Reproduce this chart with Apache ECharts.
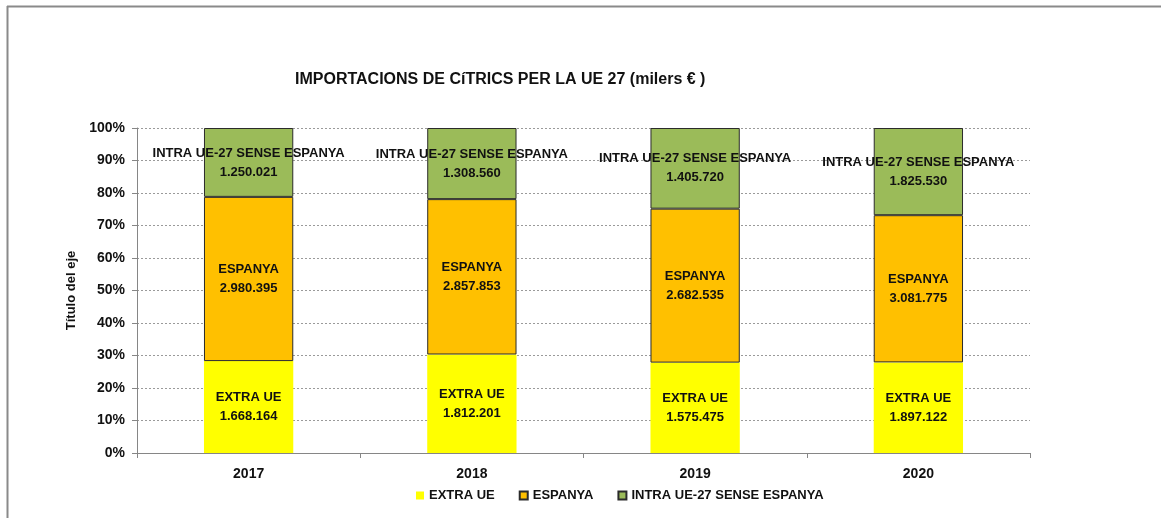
<!DOCTYPE html>
<html>
<head>
<meta charset="utf-8">
<script src="https://cdn.jsdelivr.net/npm/echarts@6/dist/echarts.min.js"></script>
<style>
html,body{margin:0;padding:0;background:#fff;}
#chart{width:1161px;height:518px;}
</style>
</head>
<body>
<div id="chart"></div>
<script>
var categories = ['2017', '2018', '2019', '2020'];
var extraUE = [1668164, 1812201, 1575475, 1897122];
var espanya = [2980395, 2857853, 2682535, 3081775];
var intraUE = [1250021, 1308560, 1405720, 1825530];
var seriesNames = ['EXTRA UE', 'ESPANYA', 'INTRA UE-27 SENSE ESPANYA'];
var yTicks = [0, 10, 20, 30, 40, 50, 60, 70, 80, 90, 100];

var raw = [extraUE, espanya, intraUE];
var totals = categories.map(function (c, i) { return extraUE[i] + espanya[i] + intraUE[i]; });
function pct(arr) { return arr.map(function (v, i) { return v / totals[i] * 100; }); }
function fmt(v) { return String(v).replace(/\B(?=(\d{3})+(?!\d))/g, '.'); }

var FONT = '"Liberation Sans", Arial, sans-serif';
var colors = ['#FFFF00', '#FFC000', '#9BBB59'];

var series = raw.map(function (arr, k) {
  return {
    name: seriesNames[k],
    type: 'bar',
    stack: 'total',
    barWidth: '40%',
    data: pct(arr),
    itemStyle: k === 0 ? { color: colors[k] } : { color: colors[k], borderColor: '#2b2b2b', borderWidth: 1 },
    label: {
      show: true,
      position: 'inside',
      color: '#111',
      fontFamily: FONT,
      fontWeight: 'bold',
      fontSize: 13,
      lineHeight: 19,
      formatter: function (p) { return seriesNames[k] + '\n' + fmt(arr[p.dataIndex]); }
    },
    emphasis: { disabled: true }
  };
});

var chart = echarts.init(document.getElementById('chart'), null, { renderer: 'canvas' });
chart.setOption({
  animation: false,
  backgroundColor: '#fff',
  graphic: [
    { type: 'line', shape: { x1: 7, y1: 6.5, x2: 1161, y2: 6.5 }, style: { stroke: '#8a8a8a', lineWidth: 2 } },
    { type: 'line', shape: { x1: 7.5, y1: 6, x2: 7.5, y2: 518 }, style: { stroke: '#8a8a8a', lineWidth: 2 } },
    { type: 'text', left: 295, top: 72, style: { text: 'IMPORTACIONS DE CíTRICS PER LA UE 27 (milers € )', fontFamily: FONT, fontWeight: 'bold', fontSize: 16, fill: '#111' } }
  ],
  legend: {
    left: 411,
    top: 484,
    itemWidth: 8,
    itemHeight: 8,
    itemGap: 24,
    icon: 'rect',
    textStyle: { fontFamily: FONT, fontWeight: 'bold', fontSize: 13, color: '#111' },
    data: seriesNames
  },
  grid: { left: 137, right: 131, top: 128, bottom: 65, containLabel: false },
  xAxis: {
    type: 'category',
    data: categories,
    axisLine: { lineStyle: { color: '#868686', width: 1 } },
    axisTick: { show: true, length: 5, lineStyle: { color: '#868686' } },
    axisLabel: { margin: 14, fontFamily: FONT, fontWeight: 'bold', fontSize: 14, color: '#111' }
  },
  yAxis: {
    type: 'value',
    min: yTicks[0],
    max: yTicks[yTicks.length - 1],
    interval: 10,
    name: 'Título del eje',
    nameLocation: 'middle',
    nameGap: 53,
    nameRotate: 90,
    nameTextStyle: { fontFamily: FONT, fontWeight: 'bold', fontSize: 13, color: '#111' },
    axisLine: { show: true, lineStyle: { color: '#868686', width: 1 } },
    axisTick: { show: true, length: 5, lineStyle: { color: '#868686' } },
    axisLabel: { margin: 12, fontFamily: FONT, fontWeight: 'bold', fontSize: 14, color: '#111', formatter: '{value}%' },
    splitLine: { show: true, lineStyle: { color: '#9a9a9a', type: [2, 2], width: 1 } }
  },
  series: series
});
</script>
</body>
</html>
